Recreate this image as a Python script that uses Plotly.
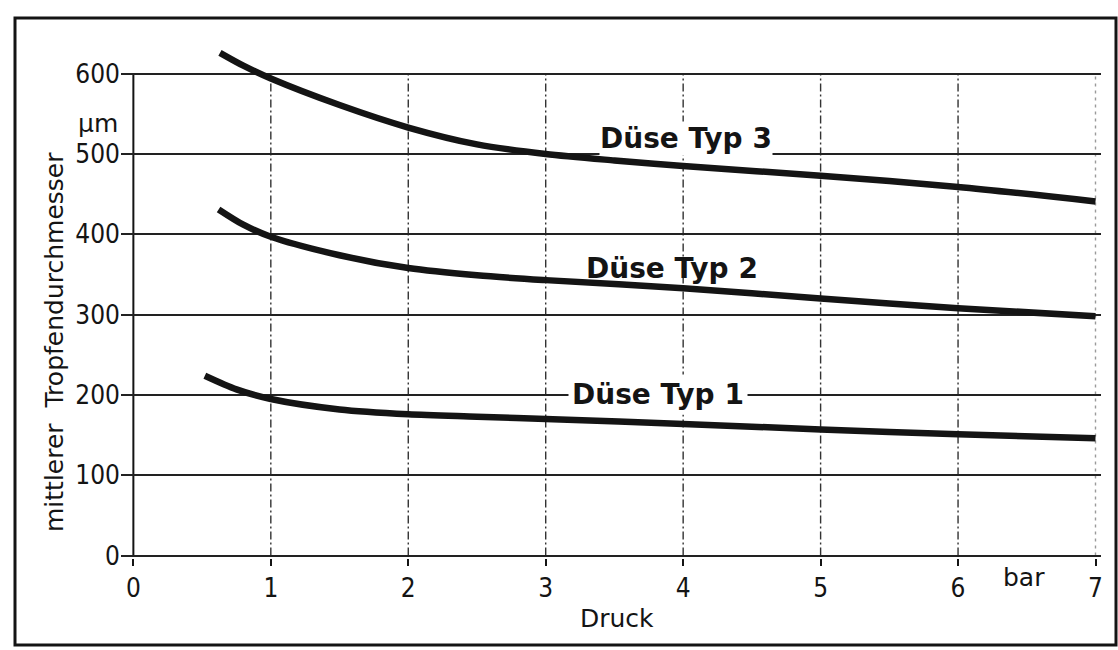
import plotly.graph_objects as go

# Mean droplet diameter vs. pressure for three nozzle types
druck_typ1 = [0.52, 0.75, 1.0, 1.5, 2.0, 2.5, 3.0, 4.0, 5.0, 6.0, 7.0]
tropfen_typ1 = [224, 207, 195, 182, 176, 173, 170, 164, 157, 151, 146]

druck_typ2 = [0.62, 0.8, 1.0, 1.5, 2.0, 2.5, 3.0, 4.0, 5.0, 6.0, 7.0]
tropfen_typ2 = [431, 412, 397, 374, 358, 349, 343, 333, 320, 308, 298]

druck_typ3 = [0.63, 0.8, 1.0, 1.5, 2.0, 2.5, 3.0, 3.5, 4.0, 5.0, 6.0, 7.0]
tropfen_typ3 = [626, 610, 594, 561, 533, 512, 500, 492, 485, 473, 459, 441]

x_ticks = [0, 1, 2, 3, 4, 5, 6, 7]
y_ticks = [0, 100, 200, 300, 400, 500, 600]

W, H = 1118, 650
ML, MR, MT, MB = 121, 17, 40, 92
PW, PH = W - ML - MR, H - MT - MB

def px_x(px):
    return (px - ML) / PW

def px_y(py):
    return (H - MB - py) / PH

FONT = "DejaVu Sans, Verdana, sans-serif"
FONT_NUM = "DejaVu Sans Condensed, DejaVu Sans, sans-serif"
INK = "#141414"

fig = go.Figure()

for xs, ys in [(druck_typ1, tropfen_typ1), (druck_typ2, tropfen_typ2), (druck_typ3, tropfen_typ3)]:
    fig.add_trace(go.Scatter(
        x=xs, y=ys, mode="lines",
        line=dict(color=INK, width=6.5, shape="spline", smoothing=0.8),
        hoverinfo="skip", showlegend=False,
    ))

shapes = []
# left axis line from 0 to 600
shapes.append(dict(type="line", xref="x", yref="y", x0=0, x1=0, y0=0, y1=y_ticks[-1],
                   line=dict(color=INK, width=2), layer="below"))
# vertical dash-dot grid lines
for xv in x_ticks[1:]:
    last = xv == x_ticks[-1]
    shapes.append(dict(type="line", xref="x", yref="y", x0=xv, x1=xv, y0=0, y1=y_ticks[-1],
                       line=dict(color="#9a9a9a" if last else "#333333", width=1.4,
                                 dash="3px,4px" if last else "8px,3px,2px,3px"),
                       layer="below"))
# outer frame
shapes.append(dict(type="rect", xref="paper", yref="paper",
                   x0=px_x(15), x1=px_x(1116), y0=px_y(645), y1=px_y(18),
                   line=dict(color=INK, width=3), fillcolor="rgba(0,0,0,0)"))

label_font = dict(family=FONT, size=28, color=INK, weight="bold")

annotations = [
    dict(text="Düse Typ 3", x=4.02, y=497, xref="x", yref="y", xanchor="center", yanchor="bottom",
         showarrow=False, font=label_font, bgcolor="white", borderpad=0),
    dict(text="Düse Typ 2", x=3.92, y=358, xref="x", yref="y", xanchor="center", yanchor="middle",
         showarrow=False, font=label_font),
    dict(text="Düse Typ 1", x=3.82, y=200, xref="x", yref="y", xanchor="center", yanchor="middle",
         showarrow=False, font=label_font, bgcolor="white", borderpad=3),
    dict(text="mittlerer  Tropfendurchmesser", x=px_x(54), y=px_y(342), xref="paper", yref="paper",
         textangle=-90, showarrow=False, xanchor="center", yanchor="middle",
         font=dict(family=FONT, size=25, color=INK)),
    dict(text="µm", x=px_x(98), y=538, xref="paper", yref="y", xanchor="center", yanchor="middle",
         showarrow=False, font=dict(family=FONT, size=25, color=INK)),
    dict(text="Druck", x=px_x(617), y=px_y(618), xref="paper", yref="paper",
         xanchor="center", yanchor="middle", showarrow=False,
         font=dict(family=FONT, size=25, color=INK)),
    dict(text="bar", x=6.48, y=px_y(577), xref="x", yref="paper",
         xanchor="center", yanchor="middle", showarrow=False,
         font=dict(family=FONT, size=25, color=INK)),
]

fig.update_layout(
    width=W, height=H,
    margin=dict(l=ML, r=MR, t=MT, b=MB, pad=0),
    paper_bgcolor="white", plot_bgcolor="white",
    shapes=shapes, annotations=annotations,
    xaxis=dict(range=[-0.09, 7.04], tickvals=x_ticks, ticktext=[str(v) for v in x_ticks],
               showgrid=False, zeroline=False, showline=False,
               ticks="outside", ticklen=7, tickwidth=1.5, tickcolor=INK,
               tickfont=dict(family=FONT_NUM, size=26, color=INK)),
    yaxis=dict(range=[-3, 642], tickvals=y_ticks, ticktext=[str(v) for v in y_ticks],
               showgrid=True, gridcolor="#222222", gridwidth=1.8,
               zeroline=False, showline=False, ticks="",
               tickfont=dict(family=FONT_NUM, size=26, color=INK)),
)

fig.write_html("out.html")
